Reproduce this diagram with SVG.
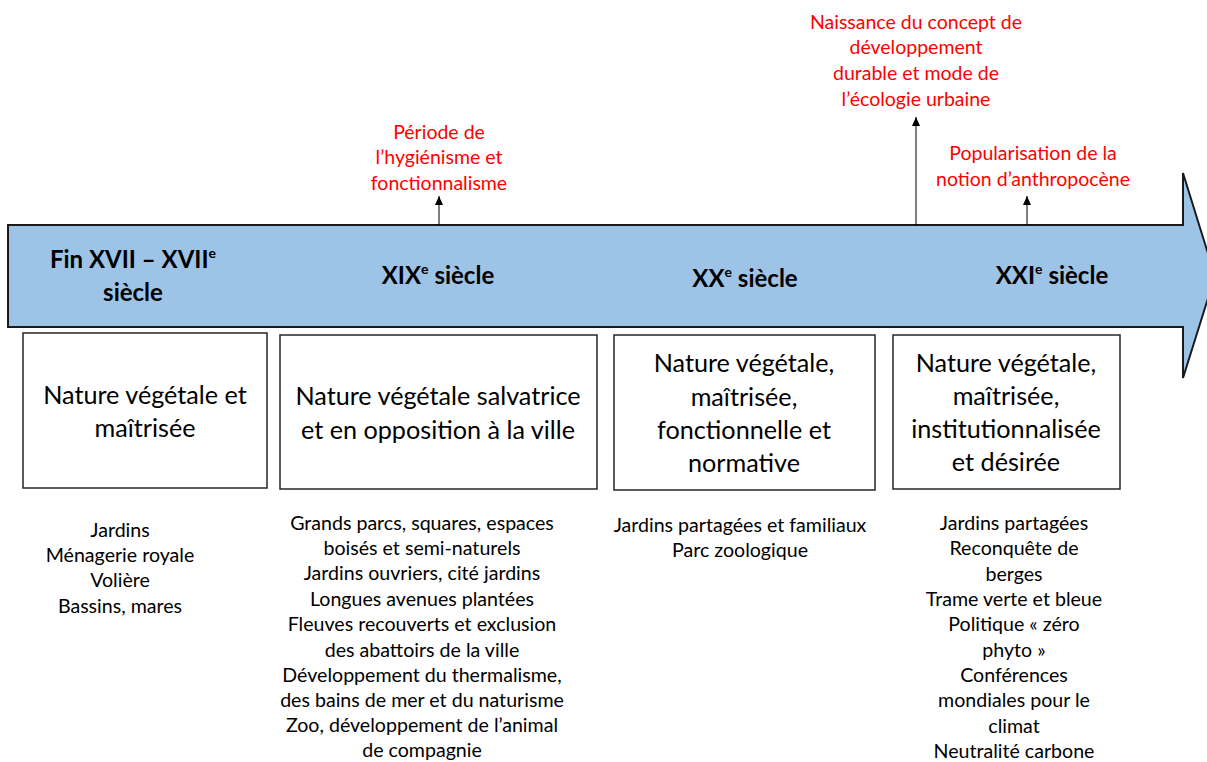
<svg xmlns="http://www.w3.org/2000/svg" width="1207" height="762" viewBox="0 0 1207 762">
<style>
.box{fill:#fff;stroke:#262626;stroke-width:1.5}
.bt{font-family:Lato,"Liberation Sans",sans-serif;font-size:25.2px;fill:#000;text-anchor:middle}
.hd{font-family:Lato,"Liberation Sans",sans-serif;font-size:24px;font-weight:bold;fill:#000;text-anchor:middle}
.lt{font-family:Lato,"Liberation Sans",sans-serif;font-size:19.6px;fill:#000;text-anchor:middle}
.rt{font-family:Lato,"Liberation Sans",sans-serif;font-size:19.5px;fill:#ff0000;text-anchor:middle}
.sup{font-size:14px}
.con{stroke:#000;stroke-width:1;fill:none;marker-end:url(#ah)}
</style>
<defs>
<marker id="ah" markerWidth="9" markerHeight="8" refX="9" refY="4" orient="auto" markerUnits="userSpaceOnUse" viewBox="0 0 9 8">
<path d="M0,0 L9,4 L0,8 Z" fill="#000"/>
</marker>
</defs>
<g id="timeline">
<path d="M8,225 H1183 V173 L1215,276 L1183,378 V327 H8 Z" fill="#9dc3e6" stroke="#1a1a1a" stroke-width="2"/>
<text class="hd" x="133" y="268">Fin XVII – XVII<tspan class="sup" dy="-10">e</tspan></text>
<text class="hd" x="133" y="301">siècle</text>
<text class="hd" x="438" y="284">XIX<tspan class="sup" dy="-10">e</tspan><tspan dy="10"> siècle</tspan></text>
<text class="hd" x="745" y="287">XX<tspan class="sup" dy="-10">e</tspan><tspan dy="10"> siècle</tspan></text>
<text class="hd" x="1052" y="284">XXI<tspan class="sup" dy="-10">e</tspan><tspan dy="10"> siècle</tspan></text>
</g>
<g id="connectors">
<line class="con" x1="439" y1="225" x2="439" y2="196"/>
<line class="con" x1="916" y1="225" x2="916" y2="117"/>
<line class="con" x1="1027" y1="225" x2="1027" y2="196"/>
</g>
<g id="event1">
<text class="rt" x="439" y="139">Période de</text>
<text class="rt" x="439" y="164">l’hygiénisme et</text>
<text class="rt" x="439" y="190">fonctionnalisme</text>
</g>
<g id="event2">
<text class="rt" x="916" y="29">Naissance du concept de</text>
<text class="rt" x="916" y="54">développement</text>
<text class="rt" x="916" y="80">durable et mode de</text>
<text class="rt" x="916" y="106">l’écologie urbaine</text>
</g>
<g id="event3">
<text class="rt" x="1033" y="160">Popularisation de la</text>
<text class="rt" x="1033" y="186">notion d’anthropocène</text>
</g>
<g id="box1">
<rect class="box" x="23" y="333" width="244" height="155"/>
<text class="bt" x="145" y="404">Nature végétale et</text>
<text class="bt" x="145" y="437">maîtrisée</text>
</g>
<g id="box2">
<rect class="box" x="280" y="335" width="317" height="154"/>
<text class="bt" x="438" y="405">Nature végétale salvatrice</text>
<text class="bt" x="438" y="439">et en opposition à la ville</text>
</g>
<g id="box3">
<rect class="box" x="614" y="335" width="261" height="155"/>
<text class="bt" x="744" y="372">Nature végétale,</text>
<text class="bt" x="744" y="406">maîtrisée,</text>
<text class="bt" x="744" y="439">fonctionnelle et</text>
<text class="bt" x="744" y="472">normative</text>
</g>
<g id="box4">
<rect class="box" x="893" y="335" width="227" height="154"/>
<text class="bt" x="1006" y="372">Nature végétale,</text>
<text class="bt" x="1006" y="405">maîtrisée,</text>
<text class="bt" x="1006" y="438">institutionnalisée</text>
<text class="bt" x="1006" y="471">et désirée</text>
</g>
<g id="list1">
<text class="lt" x="120" y="537">Jardins</text>
<text class="lt" x="120" y="562">Ménagerie royale</text>
<text class="lt" x="120" y="587">Volière</text>
<text class="lt" x="120" y="613">Bassins, mares</text>
</g>
<g id="list2">
<text class="lt" x="422" y="530">Grands parcs, squares, espaces</text>
<text class="lt" x="422" y="555">boisés et semi-naturels</text>
<text class="lt" x="422" y="580">Jardins ouvriers, cité jardins</text>
<text class="lt" x="422" y="606">Longues avenues plantées</text>
<text class="lt" x="422" y="631">Fleuves recouverts et exclusion</text>
<text class="lt" x="422" y="657">des abattoirs de la ville</text>
<text class="lt" x="422" y="682">Développement du thermalisme,</text>
<text class="lt" x="422" y="707">des bains de mer et du naturisme</text>
<text class="lt" x="422" y="732">Zoo, développement de l’animal</text>
<text class="lt" x="422" y="757">de compagnie</text>
</g>
<g id="list3">
<text class="lt" x="740" y="532">Jardins partagées et familiaux</text>
<text class="lt" x="740" y="557">Parc zoologique</text>
</g>
<g id="list4">
<text class="lt" x="1014" y="530">Jardins partagées</text>
<text class="lt" x="1014" y="555">Reconquête de</text>
<text class="lt" x="1014" y="581">berges</text>
<text class="lt" x="1014" y="606">Trame verte et bleue</text>
<text class="lt" x="1014" y="631">Politique « zéro</text>
<text class="lt" x="1014" y="657">phyto »</text>
<text class="lt" x="1014" y="682">Conférences</text>
<text class="lt" x="1014" y="707">mondiales pour le</text>
<text class="lt" x="1014" y="733">climat</text>
<text class="lt" x="1014" y="758">Neutralité carbone</text>
</g>
</svg>
